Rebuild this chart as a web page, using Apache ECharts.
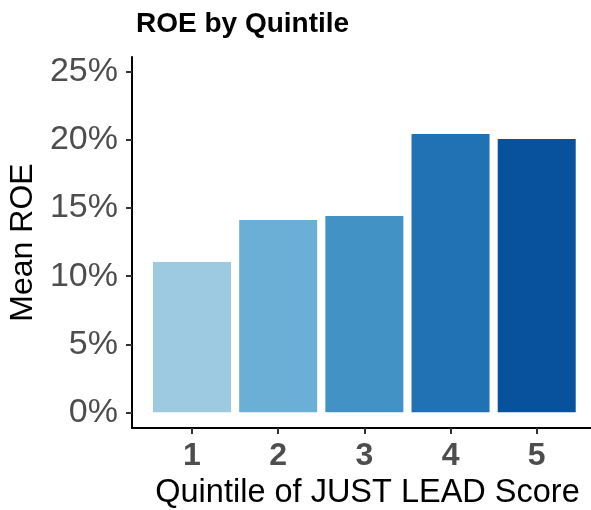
<!DOCTYPE html>
<html>
<head>
<meta charset="utf-8">
<script src="https://cdn.jsdelivr.net/npm/echarts@6/dist/echarts.min.js"></script>
<style>
  html, body { margin: 0; padding: 0; background: #fff; }
  #chart { width: 591px; height: 510px; }
</style>
</head>
<body>
<div id="chart"></div>
<script>
// quintiles and mean ROE (%)
const quintiles = [1, 2, 3, 4, 5]
const meanRoe = [11.04, 14.13, 14.42, 20.45, 20.08]
const barColors = ['#9ecae1', '#6baed6', '#4292c6', '#2171b5', '#08519c']
const yTicks = [0, 5, 10, 15, 20, 25]

const font = 'Liberation Sans, Arial, Helvetica, sans-serif'

const chart = echarts.init(document.getElementById('chart'))

chart.setOption({
  animation: false,
  title: {
    text: 'ROE by Quintile',
    left: 131,
    top: 5,
    textStyle: {
      fontFamily: font,
      fontSize: 28,
      fontWeight: 'bold',
      color: '#000'
    }
  },
  grid: {
    left: 132,
    right: 0,
    top: 57,
    bottom: 82,
    outerBoundsMode: 'none'
  },
  xAxis: {
    type: 'value',
    min: 0.3037,
    max: 5.63,
    name: 'Quintile of JUST LEAD Score',
    nameLocation: 'middle',
    nameGap: 43,
    nameTextStyle: {
      fontFamily: font,
      fontSize: 32.5,
      color: '#000',
      padding: [0, 0, 0, 12]
    },
    axisLine: { show: true, onZero: false, lineStyle: { color: '#000', width: 2 } },
    axisTick: {
      show: true,
      length: 6,
      customValues: quintiles,
      lineStyle: { color: '#333', width: 2 }
    },
    axisLabel: {
      customValues: quintiles,
      margin: 12,
      fontFamily: font,
      fontSize: 32,
      fontWeight: 'bold',
      color: '#4d4d4d'
    },
    splitLine: { show: false }
  },
  yAxis: {
    type: 'value',
    min: -1.15,
    max: 26.1,
    name: 'Mean ROE',
    nameLocation: 'middle',
    nameGap: 92,
    nameTextStyle: {
      fontFamily: font,
      fontSize: 32,
      color: '#000'
    },
    axisLine: { show: true, onZero: false, lineStyle: { color: '#000', width: 2 } },
    axisTick: {
      show: true,
      length: 6,
      customValues: yTicks,
      lineStyle: { color: '#333', width: 2 }
    },
    axisLabel: {
      customValues: yTicks,
      margin: 14,
      fontFamily: font,
      fontSize: 34,
      color: '#4d4d4d',
      formatter: v => v + '%'
    },
    splitLine: { show: false }
  },
  series: [
    {
      type: 'bar',
      barWidth: 78,
      data: quintiles.map((q, i) => ({
        value: [q, meanRoe[i]],
        itemStyle: { color: barColors[i] }
      }))
    }
  ]
})
</script>
</body>
</html>
